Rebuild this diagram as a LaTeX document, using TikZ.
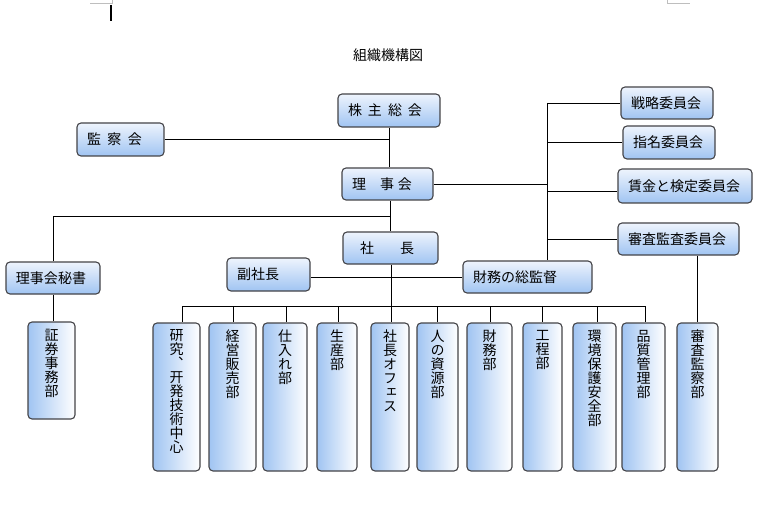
\documentclass[tikz,border=0pt]{standalone}
\usepackage{fontspec}
\setmainfont{Noto Sans CJK JP}
\newfontfamily\jpv[RawFeature=+vert]{Noto Sans CJK JP}
\usetikzlibrary{calc}
\definecolor{boxblue}{RGB}{160,196,242}
\definecolor{boxpale}{RGB}{238,244,253}
\definecolor{boxline}{RGB}{68,68,72}
\definecolor{markgray}{RGB}{190,190,190}
\newcommand\tatext[3]{\parbox[c][#2][t]{#1}{\centering\jpv #3}}
\tikzset{
  every node/.style={font=\fontsize{14}{14}\selectfont},
  hbox/.style={draw=boxline, line width=1.1pt, rounded corners=4pt, top color=boxpale, bottom color=boxblue, inner xsep=10pt, inner ysep=0pt, align=left},
  vbox/.style={draw=boxline, line width=1.1pt, rounded corners=4pt, left color=boxblue, right color=white, inner xsep=0pt, inner ysep=7pt},
  conn/.style={draw=black, line width=0.9pt},
  pagemark/.style={draw=markgray, line width=0.8pt},
}
\begin{document}
\begin{tikzpicture}[x=1pt,y=-1pt]
\fill[white] (0,0) rectangle (762,521);
\useasboundingbox (0,0) rectangle (762,521);
% page marks and cursor
\draw[pagemark] (90,3) -- (112,3) -- (112,0);
\draw[pagemark] (667,0) -- (667,3) -- (690,3);
\draw[black, line width=1.4pt] (111,5) -- (111,21);
% title
\node (title) at (388,55) {組織機構図};
% horizontal boxes
\node[hbox, text width=82pt, minimum height=33pt] (kabu) at (389,110.5) {株\hspace{6pt}主\hspace{6pt}総\hspace{6pt}会};
\node[hbox, text width=67pt, minimum height=33pt] (kansa) at (120.5,139.5) {監\hspace{6.5pt}察\hspace{6.5pt}会};
\node[hbox, text width=71pt, minimum height=32pt] (rijikai) at (387.5,184) {理\hspace{14pt}事\hspace{4pt}会};
\node[hbox, text width=75pt, minimum height=32pt] (shacho) at (390.5,248) {\hspace*{7pt}社\hspace{26pt}長};
\node[hbox, text width=63pt, minimum height=33pt] (fuku) at (268.5,274.5) {副社長};
\node[hbox, text width=74pt, minimum height=32pt] (hisho) at (53,278) {理事会秘書};
\node[hbox, text width=109pt, minimum height=32pt] (soukan) at (527.5,277) {財務の総監督};
\node[hbox, text width=72pt, minimum height=32pt] (senryaku) at (667,103) {戦略委員会};
\node[hbox, text width=72pt, minimum height=33pt] (shimei) at (669,142.5) {指名委員会};
\node[hbox, text width=114pt, minimum height=34pt] (chingin) at (685,186) {賃金と検定委員会};
\node[hbox, text width=101pt, minimum height=32pt] (shinsa) at (678.5,239) {審査監査委員会};
% vertical boxes
\node[vbox] (shoken) at (51.5,370.5) {\tatext{47pt}{83pt}{証\\券\\事\\務\\部}};
\node[vbox] (d1) at (176.5,397) {\tatext{47pt}{134pt}{研\\究\\︑\\开\\発\\技\\術\\中\\心}};
\node[vbox] (d2) at (232.5,397) {\tatext{47pt}{134pt}{経\\営\\販\\売\\部}};
\node[vbox] (d3) at (285,397) {\tatext{44pt}{134pt}{仕\\入\\れ\\部}};
\node[vbox] (d4) at (337,397) {\tatext{40pt}{134pt}{生\\産\\部}};
\node[vbox] (d5) at (390,397) {\tatext{38pt}{134pt}{社\\長\\オ\\フ\\ェ\\ス}};
\node[vbox] (d6) at (437.5,397) {\tatext{41pt}{134pt}{人\\の\\資\\源\\部}};
\node[vbox] (d7) at (489.5,397) {\tatext{45pt}{134pt}{財\\務\\部}};
\node[vbox] (d8) at (542.5,397) {\tatext{39pt}{134pt}{工\\程\\部}};
\node[vbox] (d9) at (594.5,397) {\tatext{43pt}{134pt}{環\\境\\保\\護\\安\\全\\部}};
\node[vbox] (d10) at (643.5,397) {\tatext{43pt}{134pt}{品\\質\\管\\理\\部}};
\node[vbox] (kansabu) at (697.5,397) {\tatext{41pt}{134pt}{審\\査\\監\\察\\部}};
% connectors: top part
\draw[conn] (kabu.south) -- (kabu.south |- rijikai.north);
\draw[conn] (kansa.east) -- (kansa.east -| kabu.south);
\coordinate (rjx) at (390,216);
\draw[conn] (rijikai.south -| rjx) -- (rjx |- shacho.north);
\draw[conn] (rjx) -- (rjx -| hisho.north) -- (hisho.north);
\draw[conn] (hisho.south) -- (hisho.south |- shoken.north);
% committees
\coordinate (cbus) at (547,103);
\draw[conn] (rijikai.east) -- (rijikai.east -| cbus);
\draw[conn] (cbus) -- (cbus |- soukan.north);
\draw[conn] (cbus) -- (senryaku.west);
\draw[conn] (cbus |- shimei.west) -- (shimei.west);
\coordinate (chj) at ($(chingin.west)+(0,5)$);
\draw[conn] (cbus |- chj) -- (chj);
\draw[conn] (cbus |- shinsa.west) -- (shinsa.west);
\draw[conn] (shinsa.south -| kansabu.north) -- (kansabu.north);
% vice president and finance
\draw[conn] (soukan.west) -- (soukan.west -| fuku.east);
% departments
\foreach \n/\x in {d1/182,d2/233,d3/286,d4/338,d5/391,d6/437,d7/490,d8/542,d9/597,d10/645} {
  \coordinate (j\n) at (\x,306);
  \draw[conn] (j\n) -- (j\n |- \n.north);
}
\draw[conn] (shacho.south -| jd5) -- (jd5);
\draw[conn] (jd1) -- (jd10);
\end{tikzpicture}
\end{document}
